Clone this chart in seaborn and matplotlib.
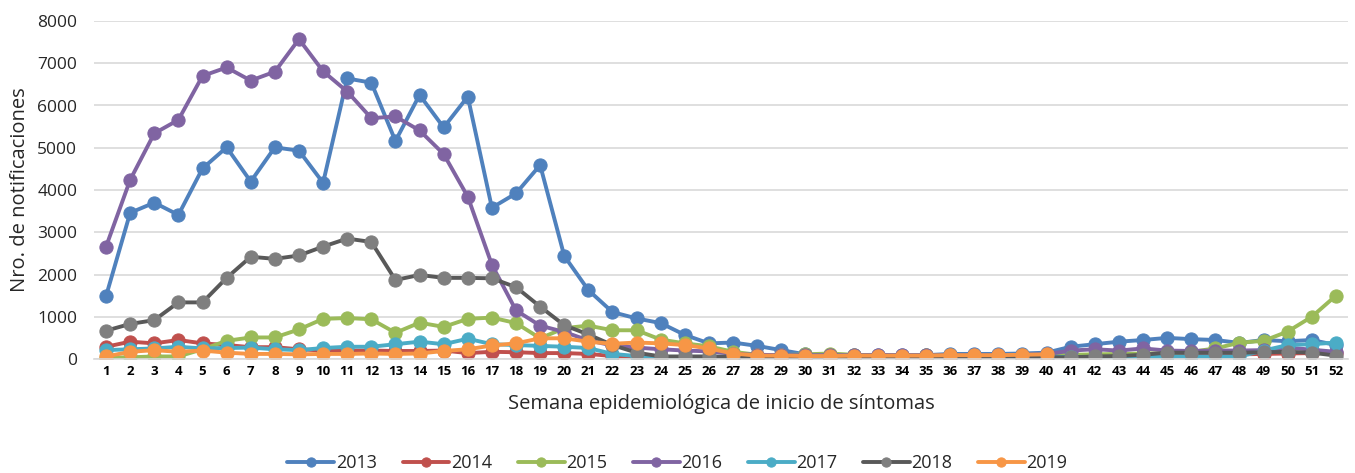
import numpy as np
import pandas as pd
import seaborn as sns
import matplotlib.pyplot as plt

weeks = list(range(1, 53))
years = ['2013', '2014', '2015', '2016', '2017', '2018', '2019']

y2013 = [1490, 3460, 3700, 3410, 4510, 5010, 4200, 5010, 4930, 4170, 6640, 6540, 5160, 6250, 5480, 6210,
         3580, 3920, 4590, 2440, 1630, 1110, 960, 850, 570, 370, 390, 310, 210, 110, 90, 90, 100, 90, 90,
         120, 120, 120, 130, 150, 290, 350, 410, 450, 500, 470, 450, 380, 450, 420, 450, 330]
y2014 = [290, 410, 370, 450, 370, 330, 280, 280, 230, 200, 200, 200, 190, 190, 200, 140, 170, 160, 140, 140,
         120, 70, 60, 40, 40, 40, 40, 40, 40, 40, 40, 40, 40, 40, 40, 40, 40, 40, 40, 50, 60, 70, 80, 90,
         100, 110, 110, 110, 120, 130, 140, 140]
y2015 = [30, 40, 60, 60, 230, 430, 510, 510, 700, 950, 970, 940, 620, 860, 760, 950, 980, 850, 490, 730,
         790, 680, 680, 460, 370, 300, 170, 100, 90, 110, 130, 100, 80, 80, 90, 90, 80, 80, 90, 100, 100,
         110, 120, 130, 140, 170, 250, 385, 430, 650, 1000, 1500]
y2016 = [2660, 4240, 5340, 5660, 6700, 6900, 6590, 6800, 7570, 6810, 6330, 5700, 5740, 5410, 4850, 3840,
         2230, 1150, 790, 640, 440, 320, 270, 230, 200, 180, 120, 100, 90, 90, 90, 90, 90, 90, 90, 90, 90,
         90, 100, 110, 200, 230, 200, 250, 200, 190, 200, 200, 210, 270, 220, 170]
y2017 = [210, 230, 250, 290, 250, 260, 270, 230, 210, 260, 290, 290, 350, 410, 350, 480, 350, 330, 310, 290,
         260, 120, 70, 50, 50, 50, 50, 50, 50, 50, 50, 50, 50, 50, 50, 50, 50, 50, 50, 50, 50, 50, 50, 60,
         60, 60, 60, 60, 200, 330, 350, 390]
y2018 = [670, 830, 920, 1340, 1340, 1920, 2420, 2370, 2450, 2660, 2850, 2770, 1870, 1990, 1920, 1920, 1910,
         1700, 1240, 800, 580, 330, 150, 60, 60, 60, 50, 50, 50, 40, 40, 40, 40, 40, 40, 40, 40, 40, 40, 40,
         40, 60, 70, 100, 150, 150, 150, 150, 160, 170, 150, 80]
# 2019 only goes up to week 40
y2019 = [60, 170, 210, 170, 200, 150, 120, 120, 110, 120, 120, 130, 120, 130, 190, 230, 320, 370, 490, 490,
         410, 360, 390, 370, 330, 250, 130, 80, 80, 70, 70, 80, 80, 80, 80, 90, 90, 90, 100, 110]

series = [y2013, y2014, y2015, y2016, y2017, y2018, y2019]
line_colors = ['#4F81BD', '#C0504D', '#9BBB59', '#8064A2', '#4BACC6', '#595959', '#F79646']
marker_colors = ['#4F81BD', '#C0504D', '#9BBB59', '#8064A2', '#4BACC6', '#7F7F7F', '#F79646']

sns.set_style('white')
plt.rcParams['font.family'] = ['Open Sans', 'DejaVu Sans']

fig = plt.figure(figsize=(13.55, 4.73), dpi=100)
ax = fig.add_axes([94 / 1355, 1 - 359 / 473, 1254 / 1355, 338 / 473])

for year, vals, lc, mc in zip(years, series, line_colors, marker_colors):
    df = pd.DataFrame({'semana': weeks[:len(vals)], 'casos': vals})
    sns.lineplot(data=df, x='semana', y='casos', ax=ax, color=lc, linewidth=2.8,
                 marker='o', markersize=9.5, markerfacecolor=mc, markeredgecolor=mc,
                 label=year, legend=False)

ax.set_xlim(0.5, 52.5)
ax.set_ylim(0, 8000)
ax.set_xticks(weeks)
ax.set_xticklabels([str(w) for w in weeks], fontsize=9.5, fontweight='bold', color='#000000')
ax.set_yticks(np.arange(0, 8001, 1000))
ax.set_yticklabels([str(v) for v in range(0, 8001, 1000)], fontsize=12.5, color='#262626')
ax.tick_params(axis='x', length=0, pad=4)
ax.tick_params(axis='y', length=0, pad=12)
ax.yaxis.grid(True, color='#D9D9D9', linewidth=1.2)
ax.set_axisbelow(True)
for s in ['top', 'right', 'left']:
    ax.spines[s].set_visible(False)
ax.spines['bottom'].set_color('#D9D9D9')
ax.spines['bottom'].set_linewidth(1.2)

ax.set_xlabel('Semana epidemiológica de inicio de síntomas', fontsize=14.5, labelpad=12, color='#262626')
ax.set_ylabel('Nro. de notificaciones', fontsize=14.5, labelpad=5, color='#262626')

handles = ax.get_lines()
fig.legend(handles=handles, labels=years, loc='center', bbox_to_anchor=(0.5, 10 / 473), ncol=7,
           frameon=False, fontsize=13, handlelength=2.6, columnspacing=1.4, handletextpad=0.1,
           markerscale=0.7)

fig.savefig('out.png', dpi=100)
